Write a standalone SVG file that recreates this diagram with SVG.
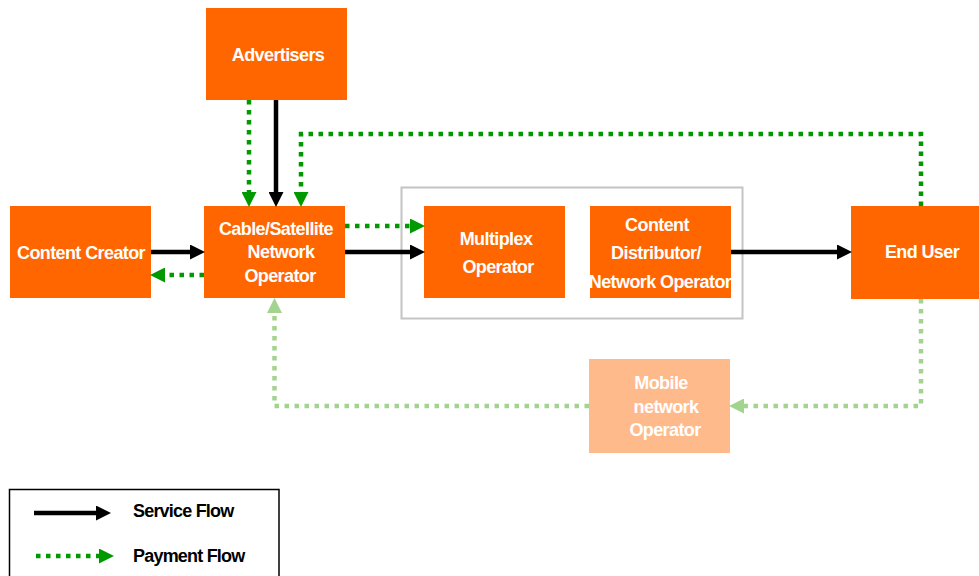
<svg xmlns="http://www.w3.org/2000/svg" width="979" height="576" viewBox="0 0 979 576">
  <defs>
    <style>
      .node { fill: #FF6600; }
      .node-faded { fill: #FFBA8C; }
      .label { font-family: "Liberation Sans", Arial, sans-serif; font-weight: bold; font-size: 18px; letter-spacing: -0.6px; fill: #FFFFFF; text-anchor: middle; }
      .legend-text { font-family: "Liberation Sans", Arial, sans-serif; font-weight: bold; font-size: 18px; letter-spacing: -0.8px; fill: #000000; }
      .service { fill: none; stroke: #000000; stroke-width: 4.5; marker-end: url(#head-black); }
      .payment { fill: none; stroke: #009900; stroke-width: 4.5; stroke-dasharray: 4.5 5.5; marker-end: url(#head-green); }
      .payment-mobile { fill: none; stroke: #A3D48F; stroke-width: 4.5; stroke-dasharray: 4.5 5.5; marker-end: url(#head-lightgreen); }
    </style>
    <marker id="head-black" markerUnits="userSpaceOnUse" markerWidth="15" markerHeight="15" refX="7" refY="7.5" orient="auto">
      <path d="M0,0 L15,7.5 L0,15 Z" fill="#000000"/>
    </marker>
    <marker id="head-green" markerUnits="userSpaceOnUse" markerWidth="15" markerHeight="15" refX="7" refY="7.5" orient="auto">
      <path d="M0,0 L15,7.5 L0,15 Z" fill="#009900"/>
    </marker>
    <marker id="head-lightgreen" markerUnits="userSpaceOnUse" markerWidth="15" markerHeight="15" refX="7" refY="7.5" orient="auto">
      <path d="M0,0 L15,7.5 L0,15 Z" fill="#A3D48F"/>
    </marker>
  </defs>

  <rect width="979" height="576" fill="#FFFFFF"/>

  <!-- grouping frame around multiplex and distributor -->
  <rect id="distribution-frame" x="401.5" y="187.5" width="341" height="131" fill="none" stroke="#C4C4C4" stroke-width="2"/>

  <g id="advertisers">
    <rect class="node" x="206" y="8" width="141" height="92"/>
    <text class="label" x="278" y="61">Advertisers</text>
  </g>

  <g id="content-creator">
    <rect class="node" x="10" y="206" width="141" height="92"/>
    <text class="label" x="81" y="259">Content Creator</text>
  </g>

  <g id="cable-satellite-operator">
    <rect class="node" x="204" y="206" width="141" height="92"/>
    <text class="label" x="276" y="235">Cable/Satellite</text>
    <text class="label" x="281" y="258">Network</text>
    <text class="label" x="280" y="282">Operator</text>
  </g>

  <g id="multiplex-operator">
    <rect class="node" x="424" y="206" width="141" height="92"/>
    <text class="label" x="496" y="245">Multiplex</text>
    <text class="label" x="498" y="273">Operator</text>
  </g>

  <g id="content-distributor">
    <rect class="node" x="590" y="206" width="141" height="92"/>
    <text class="label" x="657" y="231">Content</text>
    <text class="label" x="656" y="259">Distributor/</text>
    <text class="label" x="660" y="288">Network Operator</text>
  </g>

  <g id="end-user">
    <rect class="node" x="851" y="206" width="128" height="93"/>
    <text class="label" x="922" y="258">End User</text>
  </g>

  <g id="mobile-operator">
    <rect class="node-faded" x="589" y="359" width="141" height="94"/>
    <text class="label" x="661" y="389">Mobile</text>
    <text class="label" x="666" y="413">network</text>
    <text class="label" x="665" y="436">Operator</text>
  </g>

  <g id="connectors">
    <!-- service flows -->
    <path class="service" d="M151,252 H197"/>
    <path class="service" d="M276,100 V199"/>
    <path class="service" d="M345,252 H417"/>
    <path class="service" d="M731,252 H844"/>
    <!-- payment flows -->
    <path class="payment" d="M204,275 H158"/>
    <path class="payment" d="M249,100 V199"/>
    <path class="payment" d="M921,206 V134 H301 V199"/>
    <path class="payment" d="M345,226 H417"/>
    <!-- payment via mobile network -->
    <path class="payment-mobile" d="M921,299 V406 H737"/>
    <path class="payment-mobile" d="M589,406 H274.5 V306"/>
  </g>

  <g id="legend">
    <rect x="9.5" y="489.5" width="269.5" height="95" fill="#FFFFFF" stroke="#000000" stroke-width="1.5"/>
    <path class="service" d="M34,513 H103"/>
    <text class="legend-text" x="133" y="517">Service Flow</text>
    <path class="payment" d="M36,556 H106"/>
    <text class="legend-text" x="133" y="562">Payment Flow</text>
  </g>
</svg>
